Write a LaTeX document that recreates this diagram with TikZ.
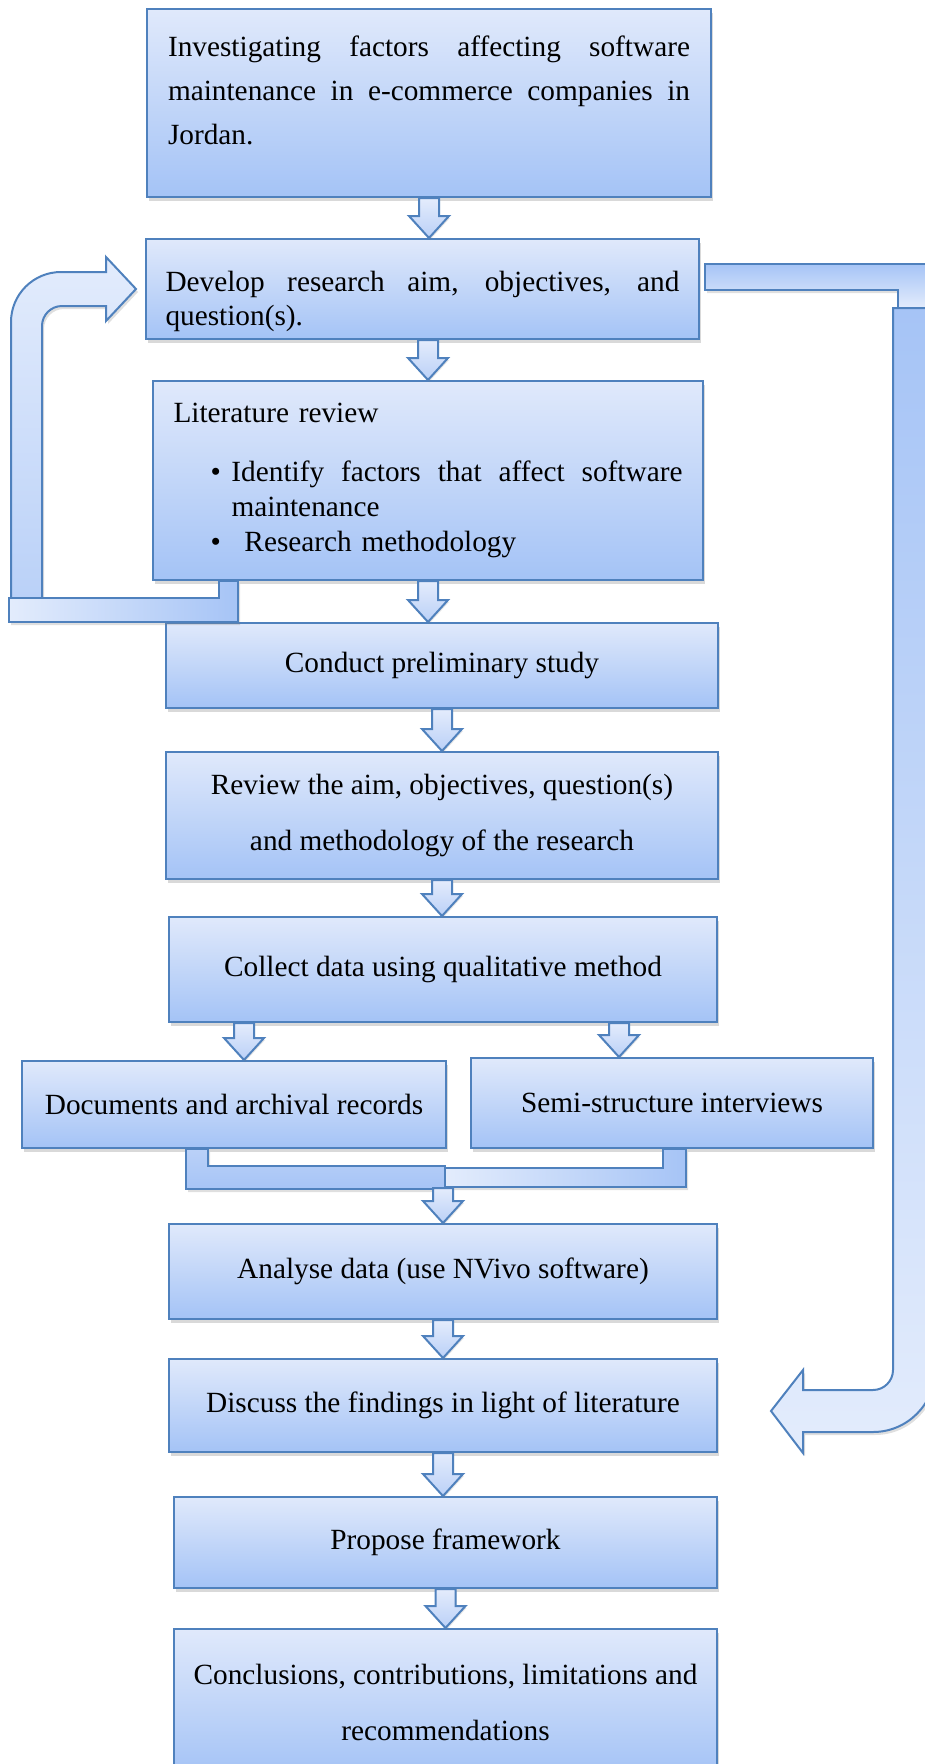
\documentclass[tikz,border=0pt]{standalone}
\usepackage{fontspec}
\setmainfont{Liberation Serif}
\usetikzlibrary{calc,shadows}

\hyphenpenalty=10000
\exhyphenpenalty=10000

\definecolor{edge}{HTML}{4F81BD}
\definecolor{boxtop}{HTML}{E0E9FB}
\definecolor{boxbot}{HTML}{A4C3F6}
\definecolor{arrtop}{HTML}{E4ECFC}
\definecolor{arrbot}{HTML}{BAD0F7}
\definecolor{bandlt}{HTML}{E3ECFC}
\definecolor{bandmd}{HTML}{BAD1F8}
\definecolor{banddk}{HTML}{A6C4F6}

\tikzset{
  stage/.style={draw=edge, line width=2pt, top color=boxtop, bottom color=boxbot,
    drop shadow={shadow xshift=2pt, shadow yshift=-4pt, opacity=.3},
    inner sep=0pt, align=center},
  downarr/.style={draw=edge, line width=2pt, line join=miter,
    top color=arrtop, bottom color=arrbot,
    drop shadow={shadow xshift=1pt, shadow yshift=-2pt, opacity=.2}},
  band/.style={draw=edge, line width=2pt, line join=miter,
    drop shadow={shadow xshift=2pt, shadow yshift=-3pt, opacity=.25}}
}

% block arrow pointing down: x taken from #1, tip at the height of #2
\newcommand{\blockdown}[2]{%
  \path[downarr] let \p1=(#1), \p2=(#2) in
    (\x1-10pt,\y1) -- (\x1+10pt,\y1) -- (\x1+10pt,\y2+22pt) -- (\x1+20pt,\y2+22pt)
    -- (\x1,\y2) -- (\x1-20pt,\y2+22pt) -- (\x1-10pt,\y2+22pt) -- cycle;}

\begin{document}
\begin{tikzpicture}[
			x=1pt, y=-1pt,
			every node/.style = {font=\fontsize{29.3}{35}\selectfont}
			]
			\useasboundingbox (0,0) rectangle (925,1764);
			
			%--- stages ---
			\node[stage, minimum width=564pt, minimum height=188pt, text width=522pt,
			      align=justify, font=\fontsize{29.3}{44}\selectfont] (inv) at (429,103)
			      {Investigating factors affecting software maintenance in e-commerce companies in Jordan.\rule[-26pt]{0pt}{26pt}};
			\node[stage, minimum width=553pt, minimum height=100pt, text width=514pt,
			      align=justify, font=\fontsize{29.3}{34}\selectfont] (dev) at (422.5,289)
			      {\rule{0pt}{45pt}Develop research aim, objectives, and question(s).};
			\node[stage, minimum width=550pt, minimum height=199pt, text width=509pt,
			      align=left] (lit) at (428,480.5)
			      {Literature review\\[24pt]
			       \hspace*{37pt}\makebox[21pt][l]{\textbullet}\hbox to 451pt{Identify\hfill factors\hfill that\hfill affect\hfill software}\\
			       \hspace*{58pt}maintenance\\
			       \hspace*{37pt}\makebox[21pt][l]{\textbullet}\hspace{13pt}Research methodology};
			\node[stage, minimum width=552pt, minimum height=85pt] (conduct) at (442,665.5)
			      {Conduct preliminary study};
			\node[stage, minimum width=552pt, minimum height=127pt,
			      font=\fontsize{29.3}{56}\selectfont] (review) at (442,815.5)
			      {Review the aim, objectives, question(s)\\and methodology of the research};
			\node[stage, minimum width=548pt, minimum height=105pt] (collect) at (443,969.5)
			      {Collect data using qualitative method};
			\node[stage, minimum width=424pt, minimum height=87pt] (docs) at (234,1104.5)
			      {Documents and archival records};
			\node[stage, minimum width=402pt, minimum height=90pt] (semi) at (672,1103)
			      {Semi-structure interviews};
			\node[stage, minimum width=548pt, minimum height=95pt] (analyse) at (443,1271.5)
			      {Analyse data (use NVivo software)};
			\node[stage, minimum width=548pt, minimum height=93pt] (discuss) at (443,1405.5)
			      {Discuss the findings in light of literature};
			\node[stage, minimum width=543pt, minimum height=91pt] (propose) at (445.5,1542.5)
			      {Propose framework};
			\node[stage, minimum width=543pt, minimum height=146pt,
			      font=\fontsize{29.3}{56}\selectfont] (concl) at (445.5,1702)
			      {Conclusions, contributions, limitations and\\recommendations};
			
			%--- free ends ---
			\coordinate (split l) at ([xshift=-199pt]collect.south);
			\coordinate (split r) at ([xshift=176pt]collect.south);
			\coordinate (merge) at (443,1188);
			\coordinate (loop out) at ([xshift=67pt]lit.south west);
			\coordinate (loop tip) at ([xshift=-9pt]dev.west);
			\coordinate (jump out) at ($(dev.east)+(5,-25)$);
			\coordinate (return tip) at (771,1411);
			
			%--- loop back to the aim (left) ---
			\path[band, top color=bandlt, bottom color=bandmd]
			  (loop tip) -- ++(-30,-32) -- ++(0,15) -- ++(-45,0)
			  arc[start angle=270, end angle=180, radius=50] -- ++(0,276) -- ++(31,0) -- ++(0,-272)
			  arc[start angle=180, end angle=270, radius=20] -- ++(44,0) -- ++(0,15) -- cycle;
			\path[band, left color=bandlt, right color=banddk]
			  (loop out) -- ++(19,0) -- ++(0,41) -- ++(-229,0) -- ++(0,-24) -- ++(210,0) -- cycle;
			
			%--- jump from the aim to the discussion (right) ---
			\path[band, top color=banddk, bottom color=bandlt]
			  (jump out) -- ++(231,0) -- ++(0,44) -- ++(-38,0) -- ++(0,-18) -- ++(-193,0) -- cycle;
			\path[band, top color=banddk, bottom color=bandlt]
			  (return tip) -- ++(32,-41) -- ++(0,20) -- ++(70,0)
			  arc[start angle=90, end angle=0, radius=20] -- ++(0,-1062) -- ++(42,0) -- ++(0,1062)
			  arc[start angle=0, end angle=90, radius=62] -- ++(-70,0) -- ++(0,21) -- cycle;
			
			%--- merge of the two sources ---
			\path[band, top color=bandmd, bottom color=banddk]
			  ($(docs.south west)+(165,0)$) -- ++(22,0) -- ++(0,17) -- ++(237,0) -- ++(0,23) -- ++(-259,0) -- cycle;
			\path[band, left color=bandlt, right color=banddk]
			  ($(semi.south west)+(193,0)$) -- ++(23,0) -- ++(0,38) -- ++(-241,0) -- ++(0,-19) -- ++(218,0) -- cycle;
			
			%--- flow arrows ---
			\blockdown{inv.south}{dev.north}
			\blockdown{dev.south -| lit.north}{lit.north}
			\blockdown{lit.south}{conduct.north}
			\blockdown{conduct.south}{review.north}
			\blockdown{review.south}{collect.north}
			\blockdown{split l}{docs.north}
			\blockdown{split r}{semi.north}
			\blockdown{merge}{analyse.north}
			\blockdown{analyse.south}{discuss.north}
			\blockdown{discuss.south}{propose.north}
			\blockdown{propose.south}{concl.north}
		\end{tikzpicture}
\end{document}
